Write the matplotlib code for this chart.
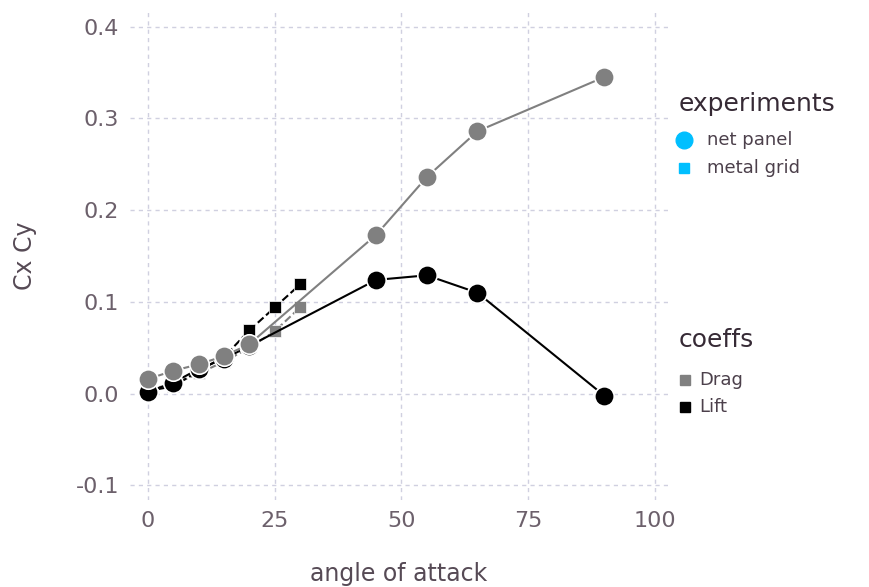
import numpy as np
import matplotlib
matplotlib.use('Agg')
from matplotlib import pyplot as plt
from matplotlib.lines import Line2D

# net panel experiment
net_angle = [0, 5, 10, 15, 20, 45, 55, 65, 90]
net_drag = [0.016, 0.025, 0.032, 0.041, 0.054, 0.173, 0.236, 0.286, 0.345]
net_lift = [0.002, 0.012, 0.027, 0.038, 0.052, 0.124, 0.129, 0.110, -0.002]

# metal grid experiment
grid_angle = [0, 5, 10, 15, 20, 25, 30]
grid_drag = [0.005, 0.010, 0.022, 0.035, 0.050, 0.068, 0.094]
grid_lift = [0.003, 0.008, 0.025, 0.040, 0.069, 0.094, 0.119]

x_ticks = [0, 25, 50, 75, 100]
y_ticks = [-0.1, 0.0, 0.1, 0.2, 0.3, 0.4]

exp_labels = ['net panel', 'metal grid']
coef_labels = ['Drag', 'Lift']

drag_col = '#808080'
lift_col = '#000000'
tick_col = '#6C606B'
label_col = '#564A55'
grid_col = '#D0D0E0'
key_col = '#00BFFF'

fig = plt.figure(figsize=(8.69, 5.87), dpi=100)
ax = fig.add_axes([0.1496, 0.148, 0.6191, 0.8316])

# metal grid: dashed lines with squares
ax.plot(grid_angle, grid_drag, '--', color=drag_col, lw=1.5, zorder=2)
ax.plot(grid_angle, grid_lift, '--', color=lift_col, lw=1.5, zorder=2)
ax.plot(grid_angle, grid_drag, 's', color=drag_col, ms=8.5, mec='white', mew=0.5, zorder=3)
ax.plot(grid_angle, grid_lift, 's', color=lift_col, ms=8.5, mec='white', mew=0.5, zorder=3)

# net panel: solid lines with circles
ax.plot(net_angle, net_lift, '-', color=lift_col, lw=1.5, zorder=4)
ax.plot(net_angle, net_lift, 'o', color=lift_col, ms=14, mec='white', mew=1.2, zorder=5)
ax.plot(net_angle, net_drag, '-', color=drag_col, lw=1.5, zorder=6)
ax.plot(net_angle, net_drag, 'o', color=drag_col, ms=14, mec='white', mew=1.2, zorder=7)

ax.set_xlim(-3.55, 102.6)
ax.set_ylim(-0.116, 0.416)
ax.set_xticks(x_ticks)
ax.set_yticks(y_ticks)
ax.set_xticklabels([str(t) for t in x_ticks])
ax.set_yticklabels(['%.1f' % t for t in y_ticks])
ax.tick_params(length=0, labelsize=16, labelcolor=tick_col, pad=8)
for s in ax.spines.values():
    s.set_visible(False)
ax.grid(True, color=grid_col, ls=(0, (3, 3)), lw=1)
ax.set_axisbelow(True)

ax.set_xlabel('angle of attack', fontsize=17, color=label_col, labelpad=22)
ax.set_ylabel('Cx Cy', fontsize=17, color=label_col, labelpad=28)

# legends, placed in figure pixels
W, H = 869.0, 587.0
def fx(px):
    return px / W
def fy(py):
    return 1 - py / H

fig.text(fx(679), fy(104), 'experiments', fontsize=18, color='#362A35', va='center')
exp_markers = [('o', 12), ('s', 7)]
for i, lab in enumerate(exp_labels):
    yy = 140 + 28 * i
    m, ms = exp_markers[i]
    fig.add_artist(Line2D([fx(684)], [fy(yy)], marker=m, ms=ms, color=key_col, ls=''))
    fig.text(fx(707), fy(yy), lab, fontsize=13, color='#4C404B', va='center')

fig.text(fx(679), fy(340), 'coeffs', fontsize=18, color='#362A35', va='center')
coef_cols = [drag_col, lift_col]
for i, lab in enumerate(coef_labels):
    yy = 380 + 27 * i
    fig.add_artist(Line2D([fx(685)], [fy(yy)], marker='s', ms=7, color=coef_cols[i], ls=''))
    fig.text(fx(699), fy(yy), lab, fontsize=13, color='#4C404B', va='center')

fig.savefig('out.png', dpi=100)
